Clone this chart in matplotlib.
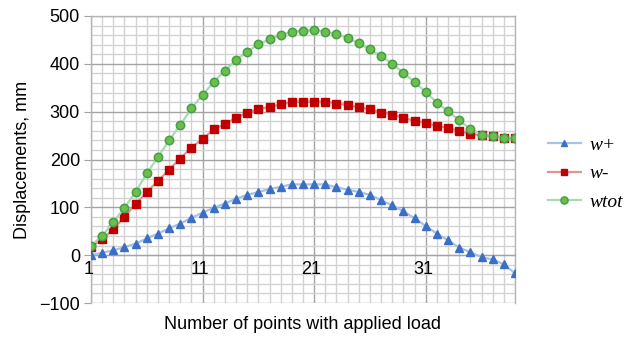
import matplotlib
matplotlib.use("Agg")
import matplotlib.pyplot as plt
from matplotlib.ticker import MultipleLocator, FixedLocator
import numpy as np

points = list(range(1, 40))
w_plus = [0, 5, 10, 17, 24, 35, 45, 56, 66, 78, 89, 99, 108, 118, 126, 132, 138, 143, 148,
          148, 148, 148, 142, 137, 132, 126, 115, 104, 92, 77, 61, 45, 31, 16, 6, -4, -9, -19, -38]
w_minus = [18, 33, 54, 80, 107, 132, 155, 179, 202, 225, 243, 263, 274, 287, 298, 305, 310, 315, 320,
           321, 321, 321, 317, 314, 309, 305, 298, 294, 287, 281, 277, 270, 266, 260, 253, 251, 249, 245, 245]
w_tot = [20, 40, 69, 99, 132, 171, 205, 240, 272, 307, 335, 362, 386, 408, 425, 441, 451, 460, 467,
         469, 471, 467, 462, 454, 443, 430, 416, 400, 381, 362, 341, 319, 301, 282, 264, 251, 249, 245, 245]
y_ticks = [-100, 0, 100, 200, 300, 400, 500]
x_ticks = [1, 11, 21, 31]
labels = ["w+", "w-", "wtot"]

plt.rcParams['font.family'] = ['Liberation Sans', 'DejaVu Sans']

fig = plt.figure(figsize=(6.31, 3.39), dpi=100)
ax = fig.add_axes([91/631, 36/339, 424/631, 287/339])

ax.set_xlim(1, 39)
ax.set_ylim(-100, 500)

ax.xaxis.set_minor_locator(MultipleLocator(1))
ax.yaxis.set_minor_locator(MultipleLocator(20))
ax.xaxis.set_major_locator(FixedLocator(x_ticks))
ax.set_yticks(y_ticks)
ax.set_yticklabels([f"{v}".replace("-", "\u2212") for v in y_ticks])
ax.grid(which='minor', color='#d2d2d2', linewidth=1.0)
ax.grid(which='major', color='#a3a3a3', linewidth=1.0)
ax.set_axisbelow(True)

for s in ['top', 'right', 'left']:
    ax.spines[s].set_color('#b5b5b5')
    ax.spines[s].set_linewidth(1.0)
ax.spines['bottom'].set_position(('data', 0))
ax.spines['bottom'].set_color('#a3a3a3')

ax.tick_params(axis='x', which='both', length=0, labelbottom=False)
ax.tick_params(axis='y', which='major', length=5, color='#a3a3a3', labelsize=13, pad=3)
ax.tick_params(axis='y', which='minor', length=0)

for xt in x_ticks:
    ax.annotate(str(xt), xy=(xt, 0), xytext=(-2, -4), textcoords='offset points',
                ha='center', va='top', fontsize=13, zorder=10, annotation_clip=False)

ax.plot(points, w_plus, color='#a9c1e6', linewidth=1.6, marker='^', markersize=5.8,
        markerfacecolor='#3a6fc4', markeredgecolor='#3a6fc4', label=labels[0], zorder=3)
ax.plot(points, w_minus, color='#e29494', linewidth=1.6, marker='s', markersize=5.6,
        markerfacecolor='#c00000', markeredgecolor='#c00000', label=labels[1], zorder=4)
ax.plot(points, w_tot, color='#a8dbb0', linewidth=1.6, marker='o', markersize=6.0,
        markerfacecolor='#6cbf4a', markeredgecolor='#459f48', markeredgewidth=1.1,
        label=labels[2], zorder=5)

ax.set_ylabel("Displacements, mm", fontsize=13, labelpad=6)
ax.set_xlabel("Number of points with applied load", fontsize=13)
ax.xaxis.set_label_coords(303/631, 23/339, transform=fig.transFigure)

leg = fig.legend(loc='upper left', bbox_to_anchor=(530/631, 1 - 119/339), frameon=False,
                 prop={'family': 'Liberation Serif', 'style': 'italic', 'size': 14},
                 handlelength=1.7, labelspacing=0.55, handletextpad=0.45, markerscale=0.85)

fig.savefig("out.png", dpi=100)
